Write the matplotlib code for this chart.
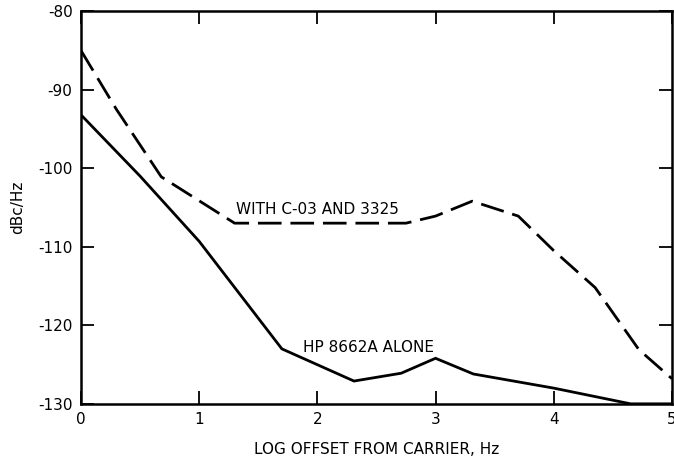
import matplotlib
matplotlib.use("Agg")
import matplotlib.pyplot as plt

# HP 8662A alone (solid)
alone_x = [0, 0.5, 1.0, 1.7, 2.31, 2.71, 3.0, 3.32, 4.0, 4.65, 5.0]
alone_y = [-93.2, -101.0, -109.3, -123.0, -127.1, -126.1, -124.2, -126.2, -128.0, -130.0, -130.0]

# with C-03 and 3325 (dashed)
with_x = [0, 0.3, 0.68, 1.3, 2.75, 3.0, 3.31, 3.7, 4.0, 4.35, 4.72, 5.0]
with_y = [-85.0, -92.5, -101.1, -107.0, -107.0, -106.1, -104.2, -106.1, -110.5, -115.2, -123.1, -126.8]

xticks = [0, 1, 2, 3, 4, 5]
yticks = [-80, -90, -100, -110, -120, -130]

plt.rcParams['font.family'] = ['DejaVu Sans']
plt.rcParams['axes.unicode_minus'] = False

fig = plt.figure(figsize=(6.74, 4.61), dpi=100)
ax = fig.add_axes([0.120, 0.124, 0.877, 0.852])

ax.plot(alone_x, alone_y, color="black", lw=2.0, solid_joinstyle="miter")
ax.plot(with_x, with_y, color="black", lw=2.0, dashes=(8.5, 3.2))

ax.set_xlim(0, 5)
ax.set_ylim(-130, -80)
ax.set_xticks(xticks)
ax.set_yticks(yticks)
ax.set_xticklabels([str(t) for t in xticks])
ax.set_yticklabels([str(t) for t in yticks])

ax.tick_params(direction="in", length=9.5, width=1.3, top=True, right=True,
               labelsize=11, pad=6)
for s in ax.spines.values():
    s.set_linewidth(1.8)

ax.text(1.31, -105.3, "WITH C-03 AND 3325", fontsize=11, ha="left", va="center")
ax.text(1.88, -122.8, "HP 8662A ALONE", fontsize=11, ha="left", va="center")

ax.set_xlabel("LOG OFFSET FROM CARRIER, Hz", fontsize=11, labelpad=11)
ax.set_ylabel("dBc/Hz", fontsize=11, labelpad=9)

fig.savefig("out.png", dpi=100)
